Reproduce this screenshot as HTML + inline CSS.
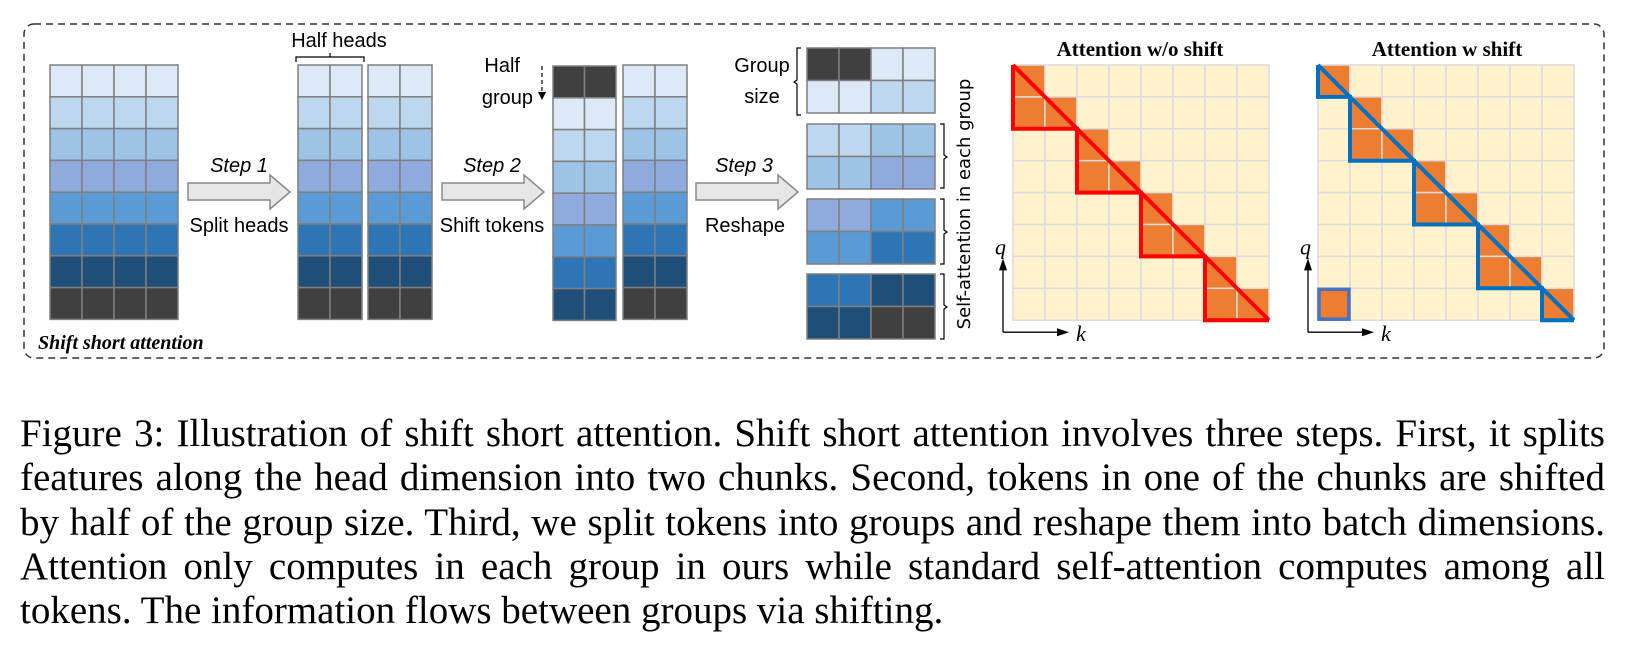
<!DOCTYPE html>
<html><head><meta charset="utf-8">
<style>
body{margin:0;background:#fff;width:1627px;height:661px;overflow:hidden;position:relative}
svg{position:absolute;left:0;top:0}
#caption{position:absolute;left:20px;top:412px;width:1585px;font-family:"Liberation Serif",serif;font-size:39px;line-height:44.3px;color:#000;margin:0}
#caption div{text-align:justify;text-align-last:justify;white-space:nowrap}
#caption div.last{text-align-last:left}
</style></head><body>
<svg id="fig" width="1627" height="370">
<rect x="24" y="24" width="1580" height="334" rx="10" fill="none" stroke="#333" stroke-width="1.5" stroke-dasharray="7,5"/>
<g id="cells"></g>
<g font-family="Liberation Sans, sans-serif" font-size="20" fill="#000">
<text x="339" y="47" text-anchor="middle">Half heads</text>
<path d="M296,62 V57 H364 V62 M330,57 V53" fill="none" stroke="#000" stroke-width="1.2"/>
<text x="239" y="172" text-anchor="middle" font-style="italic">Step 1</text>
<text x="239" y="232" text-anchor="middle">Split heads</text>
<text x="492" y="172" text-anchor="middle" font-style="italic">Step 2</text>
<text x="492" y="232" text-anchor="middle">Shift tokens</text>
<text x="744" y="172" text-anchor="middle" font-style="italic">Step 3</text>
<text x="745" y="232" text-anchor="middle">Reshape</text>
<text x="520" y="72" text-anchor="end">Half</text>
<text x="533" y="104" text-anchor="end">group</text>
<path d="M542,66 V92" stroke="#000" stroke-width="1.2" stroke-dasharray="4,3"/>
<path d="M538,92 L546,92 L542,100 Z" fill="#000"/>
<text x="762" y="72" text-anchor="middle">Group</text>
<text x="762" y="103" text-anchor="middle">size</text>
<path d="M801,48 H797 V80 L794,82 L797,84 V115 H801" fill="none" stroke="#000" stroke-width="1.2"/>
<path d="M940,124 H944 V155 L947,157 L944,159 V188 H940 M940,199 H944 V230 L947,232 L944,234 V264 H940 M940,274 H944 V305 L947,307 L944,309 V339 H940" fill="none" stroke="#000" stroke-width="1.2"/>
<text transform="translate(970,204) rotate(-90)" text-anchor="middle" font-family="DejaVu Sans, sans-serif" font-size="18">Self-attention in each group</text>
</g>
<g id="arrows" fill="#e6e6e6" stroke="#888" stroke-width="1.5"></g>
<text x="38" y="349" font-family="Liberation Serif, serif" font-weight="bold" font-style="italic" font-size="20">Shift short attention</text>
<g font-family="Liberation Serif, serif" font-weight="bold" font-size="21">
<text x="1140" y="56" text-anchor="middle">Attention w/o shift</text>
<text x="1447" y="56" text-anchor="middle">Attention w shift</text>
</g>
<g id="attn"></g>
</svg>
<div id="caption">
<div>Figure 3: Illustration of shift short attention. Shift short attention involves three steps. First, it splits</div>
<div>features along the head dimension into two chunks. Second, tokens in one of the chunks are shifted</div>
<div>by half of the group size. Third, we split tokens into groups and reshape them into batch dimensions.</div>
<div>Attention only computes in each group in ours while standard self-attention computes among all</div>
<div class="last">tokens. The information flows between groups via shifting.</div>
</div>
<script>
const palette=['#dde9f6','#bdd7ee','#9dc3e6','#8faadc','#5b9bd5','#2e75b6','#1f4e79','#404040'];
const shiftedRows=[7,0,1,2,3,4,5,6];
const reshapeBlocks=[[[7,7,0,0],[0,0,1,1]],[[1,1,2,2],[2,2,3,3]],[[3,3,4,4],[4,4,5,5]],[[5,5,6,6],[6,6,7,7]]];
const noShiftCells=[[0,0],[1,0],[1,1],[2,2],[3,2],[3,3],[4,4],[5,4],[5,5],[6,6],[7,6],[7,7]];
const shiftCells=[[0,0],[1,1],[2,1],[2,2],[3,3],[4,3],[4,4],[5,5],[6,5],[6,6],[7,7],[7,0]];
const noShiftPath=[[0,0],[0,2],[2,2],[2,4],[4,4],[4,6],[6,6],[6,8],[8,8]];
const shiftPath=[[0,0],[0,1],[1,1],[1,3],[3,3],[3,5],[5,5],[5,7],[7,7],[7,8],[8,8]];
const NS='http://www.w3.org/2000/svg';
function mk(tag,attrs,parent){const e=document.createElementNS(NS,tag);for(const k in attrs)e.setAttribute(k,attrs[k]);parent.appendChild(e);return e;}
const cells=document.getElementById('cells');
function column(x,y,cols,rows,w,h,name){
  const g=mk('g',{},cells);
  
  
  rows.forEach((r,i)=>{for(let c=0;c<cols;c++){const rc=mk('rect',{x:x+c*w,y:y+i*h,width:w,height:h,fill:palette[Array.isArray(r)?r[c]:r],stroke:'#7f7f7f','stroke-width':1.5},g);
    
    }});
}
const base=[0,1,2,3,4,5,6,7];
column(50,65,4,base,32,31.8,'input-tokens');
column(298,65,2,base,32,31.8,'half-heads-a');
column(368,65,2,base,32,31.8,'half-heads-b');
column(553,66,2,shiftedRows,31.5,31.8,'shifted-half');
column(623,65,2,base,32,31.8,'unshifted-half');
const blockY=[48,124,199,274];
reshapeBlocks.forEach((b,i)=>column(807,blockY[i],4,b,32,32.5,'reshape-group-'+(i+1)));
const arrows=document.getElementById('arrows');
[188,442,696].forEach((x,i)=>{
  const a=mk('path',{d:`M${x},183 H${x+82} V175 L${x+102},192 L${x+82},209 V200 H${x} Z`},arrows);
  
  
});
const attn=document.getElementById('attn');
function grid(x0,y0,cells,path,color,name,extraBox){
  const cw=32,ch=31.9;
  const g=mk('g',{},attn);
  
  
  for(let r=0;r<8;r++)for(let c=0;c<8;c++){
    const on=cells.some(p=>p[0]===r&&p[1]===c);
    const rc=mk('rect',{x:x0+c*cw,y:y0+r*ch,width:cw,height:ch,fill:on?'#ed7d31':'#fff2cc',stroke:'#dcdcdc','stroke-width':1.5},g);
    
    
  }
  const d=path.map((p,i)=>(i?'L':'M')+(x0+p[0]*cw)+','+(y0+p[1]*ch)).join(' ')+` M${x0},${y0} L${x0+8*cw},${y0+8*ch}`;
  const pl=mk('path',{d:d,fill:'none',stroke:color,'stroke-width':4,'stroke-linejoin':'miter'},g);
  
  
  if(extraBox){const b=mk('rect',{x:x0+extraBox[1]*cw+1,y:y0+extraBox[0]*ch+1,width:cw-2,height:ch-2,fill:'none',stroke:'#4472c4','stroke-width':3.5},g);
    
    }
  const ax=x0-10,ay=y0+8*ch+12;
  const axes=mk('path',{d:`M${ax},${ay} V${y0+6*ch+8} M${ax},${ay} H${ax+58}`,stroke:'#000','stroke-width':1.3,fill:'none'},g);
  
  
  mk('path',{d:`M${ax-4},${y0+6*ch+14} L${ax},${y0+6*ch+2} L${ax+4},${y0+6*ch+14} Z M${ax+54},${ay-4} L${ax+66},${ay} L${ax+54},${ay+4} Z`,fill:'#000'},g);
  const q=mk('text',{x:ax-8,y:y0+6*ch-2,'font-family':'Liberation Serif, serif','font-style':'italic','font-size':22},g);q.textContent='q';
  
  
  const k=mk('text',{x:ax+73,y:ay+9,'font-family':'Liberation Serif, serif','font-style':'italic','font-size':22},g);k.textContent='k';
  
  
}
grid(1013,65,noShiftCells,noShiftPath,'#ff0000','attention-without-shift');
grid(1318,65,shiftCells,shiftPath,'#0070c0','attention-with-shift',[7,0]);
</script>
</body></html>
